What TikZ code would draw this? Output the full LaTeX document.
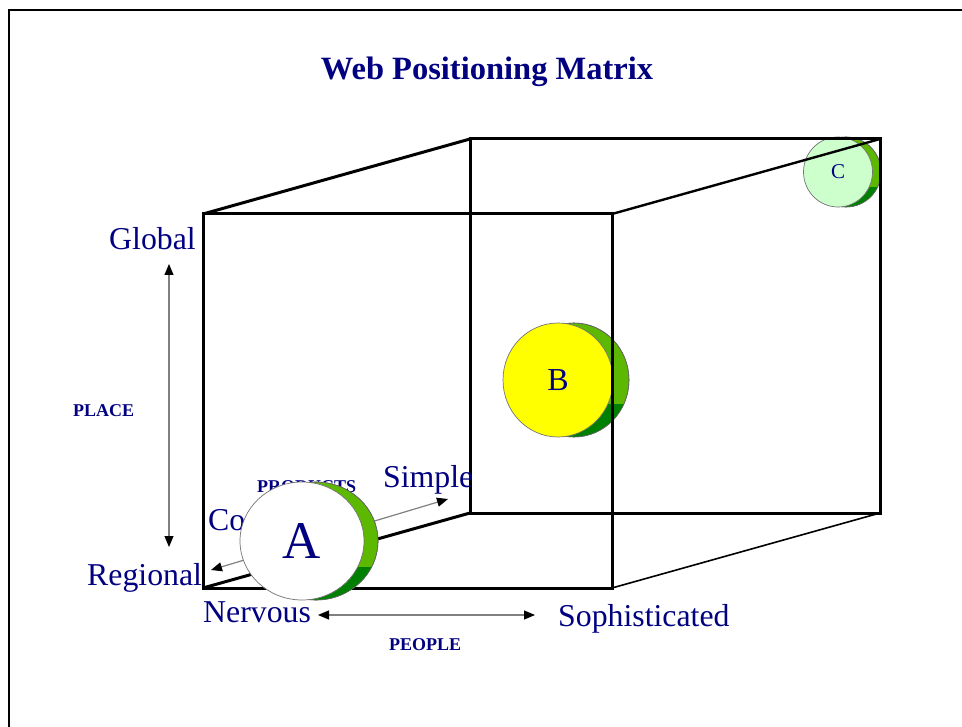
\documentclass[tikz,border=0pt]{standalone}
\usepackage{fontspec}
\setmainfont{Liberation Serif}
\usetikzlibrary{arrows.meta,shapes.geometric}
\definecolor{navy}{RGB}{0,0,128}
\definecolor{lgreen}{RGB}{92,184,0}
\definecolor{dgreen}{RGB}{0,128,0}
\definecolor{paleg}{RGB}{204,255,204}
\definecolor{arrowgray}{RGB}{128,128,128}
\definecolor{pureyellow}{RGB}{255,255,0}
\begin{document}
\begin{tikzpicture}[x=1pt,y=-1pt,
  lbl/.style={text=navy,font=\fontsize{31.8}{32}\selectfont,inner sep=0,anchor=base west},
  small/.style={text=navy,font=\fontsize{18}{18}\selectfont\bfseries,inner sep=0,anchor=base west},
  edge/.style={line width=3pt,black,line join=miter},
  thinedge/.style={line width=1.6pt,black},
  axis/.style={arrowgray,line width=1.2pt,{Triangle[color=black,length=11pt,width=9pt]}-{Triangle[color=black,length=11pt,width=9pt]}},
  shadow/.style={fill=lgreen,draw=black!60,line width=0.6pt},
  ball/.style={ellipse,draw=black!55,line width=0.7pt,inner sep=0,text=navy}]
\useasboundingbox (0,0) rectangle (962,727);
% frame
\draw[line width=2.4pt] (9,727) -- (9,10) -- (962,10);
% title
\node[text=navy,font=\fontsize{32.5}{33}\selectfont\bfseries,inner sep=0,anchor=base] (title) at (487,80) {Web Positioning Matrix};
% cube corners
\coordinate (fTL) at (203,214); \coordinate (fTR) at (612,214);
\coordinate (fBR) at (612,588); \coordinate (fBL) at (203,588);
\coordinate (bTL) at (470,139); \coordinate (bTR) at (880,139);
\coordinate (bBR) at (880,513); \coordinate (bBL) at (470,513);
% ball C (behind)
\fill[shadow] (846,172) ellipse [x radius=35,y radius=35];
\begin{scope}
\clip (790,188) rectangle (900,215);
\fill[dgreen] (846,172) ellipse [x radius=35,y radius=35];
\end{scope}
\draw[black!60,line width=0.6pt] (846,172) ellipse [x radius=35,y radius=35];
\node[ball,fill=paleg,minimum width=69pt,minimum height=70pt,font=\fontsize{21}{21}\selectfont] (C) at (838,172) {C};
% back rectangle and diagonals
\draw[edge] (bTL) rectangle (bBR);
\draw[edge] (fTL) -- (bTL);
\draw[line width=2.4pt] (fTR) -- (bTR);
\draw[thinedge] (fBR) -- (bBR);
\draw[edge] (fBL) -- (bBL);
% ball B
\fill[shadow] (574,380) ellipse [x radius=55,y radius=57];
\begin{scope}
\clip (500,405) rectangle (650,445);
\fill[dgreen] (574,380) ellipse [x radius=55,y radius=57];
\end{scope}
\draw[black!60,line width=0.6pt] (574,380) ellipse [x radius=55,y radius=57];
\node[ball,fill=pureyellow,minimum width=110pt,minimum height=114pt,font=\fontsize{32}{32}\selectfont] (B) at (558,380) {B};
% front rectangle
\draw[edge] (fTL) rectangle (fBR);
% axes labels
\node[lbl] (global) at (109,250) {Global};
\node[small] (place) at (73,417) {PLACE};
\node[lbl] (regional) at (87,585) {Regional};
\node[lbl] (nervous) at (203,622) {Nervous};
\node[lbl] (soph) at (558,626) {Sophisticated};
\node[small] (people) at (389,650) {PEOPLE};
\node[lbl] (simple) at (383,487) {Simple};
\node[lbl] (complex) at (208,530) {Complex};
\node[small] (products) at (257,492) {PRODUCTS};
% axis arrows
\coordinate (vTop) at (169,264); \coordinate (vBot) at (169,547);
\coordinate (hL) at (318,615); \coordinate (hR) at (535,615);
\coordinate (pL) at (211,570); \coordinate (pR) at (448,499);
\draw[axis] (vTop) -- (vBot);
\draw[axis] (hL) -- (hR);
\draw[axis] (pL) -- (pR);
% ball A
\fill[shadow] (316,541) ellipse [x radius=62,y radius=59];
\begin{scope}
\clip (230,567) rectangle (400,610);
\fill[dgreen] (316,541) ellipse [x radius=62,y radius=59];
\end{scope}
\draw[black!60,line width=0.6pt] (316,541) ellipse [x radius=62,y radius=59];
\node[ball,fill=white,minimum width=124pt,minimum height=118pt,font=\fontsize{53}{53}\selectfont] (A) at (302,541) {A};
\end{tikzpicture}
\end{document}
